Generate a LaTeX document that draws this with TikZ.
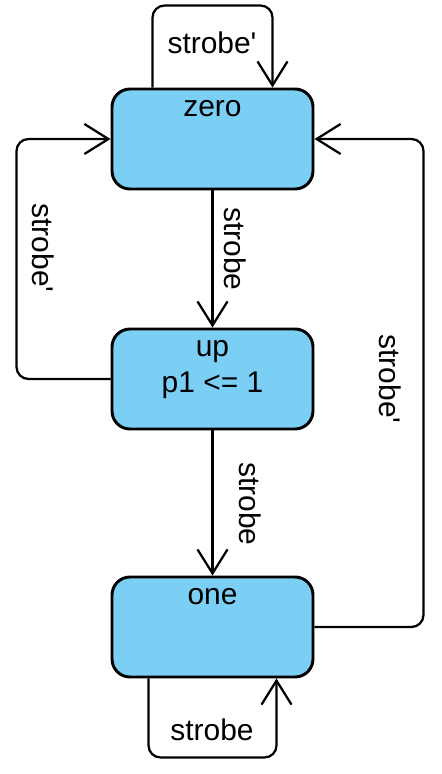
\documentclass[tikz,border=0pt]{standalone}
\usepackage{fontspec}
\setmainfont{Liberation Sans}[Ligatures=TeXOff]
\usetikzlibrary{arrows.meta}
\definecolor{statefill}{RGB}{123,207,244}
\tikzset{
  state/.style={draw, line width=2.1pt, fill=statefill, rounded corners=0.45cm,
    minimum width=5.025cm, minimum height=2.5cm},
  statetext/.style={anchor=base, align=center, yshift=-0.725cm},
  trans/.style={line width=1.6pt, rounded corners=0.3cm,
    -{Straight Barb[length=0.6cm,width=0.75cm]}},
}
\begin{document}
\begin{tikzpicture}[every node/.style={font=\fontsize{21.3}{25.6}\selectfont}]
\useasboundingbox (0,0) rectangle (11.025,-19.35);

\node[state, label={[statetext]north:zero}] (zero) at (5.3125,-3.475) {};
\node[state, label={[statetext, yshift=-0.9cm]north:{up\\p1 <= 1}}] (up) at (5.3125,-9.475) {};
\node[state, label={[statetext]north:one}] (one) at (5.3125,-15.675) {};

\draw[trans] ([xshift=-1.5cm]zero.north) -- ++(0,2.05) -| ([xshift=1.5cm]zero.north);
\draw[trans] (zero.south) -- (up.north);
\draw[trans] (up.south) -- (one.north);
\draw[trans] (up.west) -- ++(-2.35,0) |- (zero.west);
\draw[trans] (one.east) -- ++(2.725,0) |- (zero.east);
\draw[trans] ([xshift=-1.6cm]one.south) -- ++(0,-1.975) -| ([xshift=1.6cm]one.south);

\node (zeroloop) at (5.3,-1.075) {strobe'};
\node[rotate=-90] (zeroup) at (5.875,-6.225) {strobe};
\node[rotate=-90] (upzero) at (1.075,-6.2) {strobe'};
\node[rotate=-90] (upone) at (6.25,-12.6) {strobe};
\node[rotate=-90] (onezero) at (9.75,-9.475) {strobe'};
\node (oneloop) at (5.3,-18.25) {strobe};
\end{tikzpicture}
\end{document}
